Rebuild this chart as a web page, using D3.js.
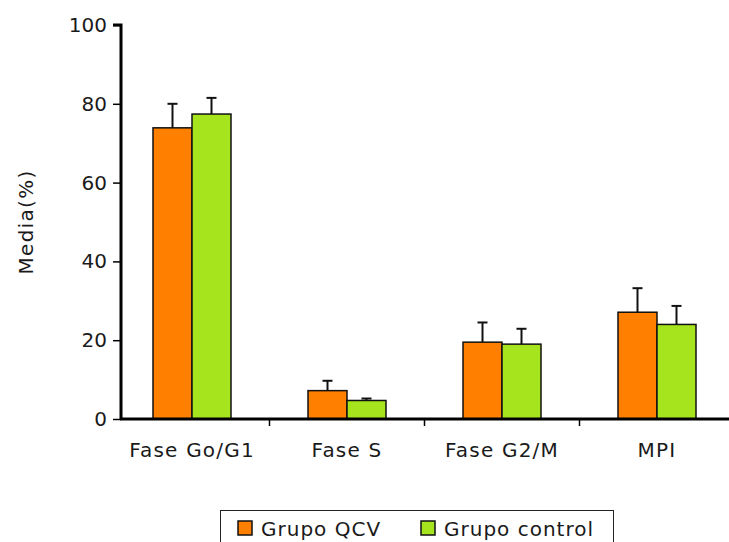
<!DOCTYPE html>
<html>
<head>
<meta charset="utf-8">
<script src="https://cdn.jsdelivr.net/npm/d3@7/dist/d3.min.js"></script>
<style>
  html, body { margin: 0; padding: 0; background: #fff; }
  svg { display: block; }
  text { font-family: "DejaVu Sans", Verdana, sans-serif; fill: #1a1a1a; }
</style>
</head>
<body>
<div id="chart"></div>
<script>
// data
const categories = ["Fase Go/G1", "Fase S", "Fase G2/M", "MPI"];
const seriesNames = ["Grupo QCV", "Grupo control"];
const qcvMeans = [73.9, 7.2, 19.5, 27.1];
const qcvErrors = [6.1, 2.5, 5.0, 6.1];
const controlMeans = [77.4, 4.7, 19.0, 24.0];
const controlErrors = [4.1, 0.5, 3.9, 4.7];
const yTicks = [0, 20, 40, 60, 80, 100];
const colors = ["#ff7f00", "#a6e41e"];

const width = 729, height = 542;

const svg = d3.select("#chart")
  .append("svg")
  .attr("width", width)
  .attr("height", height);

const y = d3.scaleLinear().domain([0, 100]).range([419, 25]);
const x = d3.scaleBand().domain(categories).range([114.5, 734.5]);
const xs = d3.scaleBand().domain(seriesNames).range([-39, 39]);

const rows = [];
categories.forEach((c, i) => {
  rows.push({ cat: c, s: seriesNames[0], v: qcvMeans[i], e: qcvErrors[i], col: colors[0] });
  rows.push({ cat: c, s: seriesNames[1], v: controlMeans[i], e: controlErrors[i], col: colors[1] });
});
const cx = d => x(d.cat) + x.bandwidth() / 2 + xs(d.s);

// error bars (drawn first, bar covers the bottom end)
const err = svg.append("g").attr("stroke", "#111").attr("stroke-width", 2);
err.selectAll("line.v")
  .data(rows)
  .join("line")
  .attr("class", "v")
  .attr("x1", d => cx(d) + xs.bandwidth() / 2)
  .attr("x2", d => cx(d) + xs.bandwidth() / 2)
  .attr("y1", d => y(d.v))
  .attr("y2", d => y(d.v + d.e));
err.selectAll("line.c")
  .data(rows)
  .join("line")
  .attr("class", "c")
  .attr("x1", d => cx(d) + xs.bandwidth() / 2 - 5)
  .attr("x2", d => cx(d) + xs.bandwidth() / 2 + 5)
  .attr("y1", d => y(d.v + d.e))
  .attr("y2", d => y(d.v + d.e));

// bars
svg.append("g")
  .selectAll("rect")
  .data(rows)
  .join("rect")
  .attr("x", d => cx(d))
  .attr("y", d => y(d.v))
  .attr("width", xs.bandwidth())
  .attr("height", d => y(0) - y(d.v))
  .attr("fill", d => d.col)
  .attr("stroke", "#111")
  .attr("stroke-width", 1.5);

// y axis
const yAxis = svg.append("g")
  .attr("transform", "translate(121,0)")
  .call(d3.axisLeft(y).tickValues(yTicks).tickSize(8).tickPadding(6));
yAxis.select(".domain").attr("stroke", "#000").attr("stroke-width", 3)
  .attr("d", `M-8,${y(100)}H0V${y(0)}`);
yAxis.selectAll(".tick line").attr("stroke", "#000").attr("stroke-width", 1.5);
yAxis.selectAll(".tick text")
  .style("font-family", "'DejaVu Sans', Verdana, sans-serif")
  .style("font-size", "20px")
  .attr("fill", "#1a1a1a");

// x axis line + ticks between categories
svg.append("line")
  .attr("x1", 120).attr("x2", width)
  .attr("y1", y(0)).attr("y2", y(0))
  .attr("stroke", "#000").attr("stroke-width", 3);
svg.append("g")
  .selectAll("line")
  .data(categories.slice(1))
  .join("line")
  .attr("x1", d => x(d)).attr("x2", d => x(d))
  .attr("y1", y(0)).attr("y2", y(0) + 7)
  .attr("stroke", "#000").attr("stroke-width", 1.5);

svg.append("g")
  .selectAll("text")
  .data(categories)
  .join("text")
  .attr("x", d => x(d) + x.bandwidth() / 2)
  .attr("y", 457)
  .attr("text-anchor", "middle")
  .style("font-size", "20px")
  .style("letter-spacing", "1.2px")
  .text(d => d);

// y axis title
svg.append("text")
  .attr("transform", "translate(33,222) rotate(-90)")
  .attr("text-anchor", "middle")
  .style("font-size", "20px")
  .style("letter-spacing", "1.3px")
  .attr("fill", "#3d1a2e")
  .text("Media(%)");

// legend
const legend = svg.append("g");
legend.append("rect")
  .attr("x", 220.5).attr("y", 510.5)
  .attr("width", 393).attr("height", 40)
  .attr("fill", "#fff").attr("stroke", "#222").attr("stroke-width", 1);
const lx = [238, 421];
const items = legend.selectAll("g.item")
  .data(seriesNames)
  .join("g")
  .attr("class", "item")
  .attr("transform", (d, i) => `translate(${lx[i]},521)`);
items.append("rect")
  .attr("width", 14).attr("height", 14)
  .attr("fill", (d, i) => colors[i])
  .attr("stroke", "#111").attr("stroke-width", 1.5);
items.append("text")
  .attr("x", 23).attr("y", 15)
  .style("font-size", "20px")
  .style("letter-spacing", "1px")
  .text(d => d);
</script>
</body>
</html>
